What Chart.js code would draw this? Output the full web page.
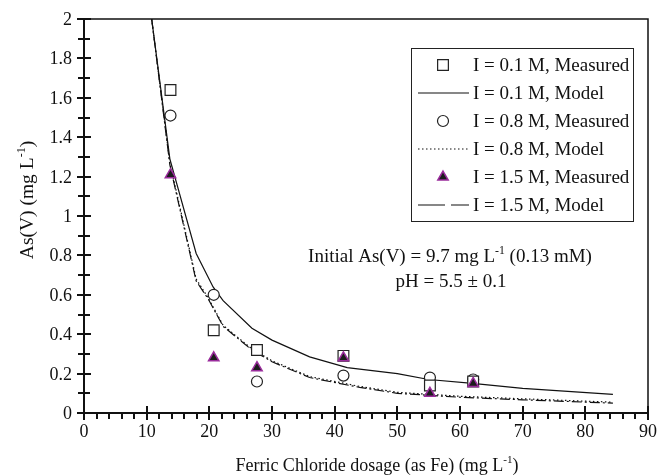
<!DOCTYPE html>
<html lang="en">
<head>
    <meta charset="UTF-8">
    <title>As(V) vs Ferric Chloride dosage</title>
    <script src="https://cdn.jsdelivr.net/npm/chart.js"></script>
    <style>
        html, body { margin: 0; padding: 0; background: #fff; }
        #wrap { width: 659px; height: 475px; position: relative; }
    </style>
</head>
<body>
    <div id="wrap"><canvas id="chart"></canvas></div>

    <script>
        // measured points
        const dose = [13.8, 20.7, 27.6, 41.4, 55.2, 62.1];
        const meas01 = [1.64, 0.42, 0.32, 0.29, 0.14, 0.16];
        const meas08 = [1.51, 0.60, 0.16, 0.19, 0.18, 0.17];
        const meas15 = [1.21, 0.28, 0.23, 0.28, 0.10, 0.15];

        // model curves
        const modelX01 = [10.8, 13.7, 17.9, 20.6, 22.2, 26.8, 30, 36, 42, 50, 55, 62, 70, 84.4];
        const model01 = [2.0, 1.29, 0.81, 0.64, 0.57, 0.43, 0.37, 0.285, 0.23, 0.20, 0.17, 0.15, 0.125, 0.095];
        const modelX08 = [10.8, 13.7, 17.9, 19.8, 22.2, 26.8, 30, 36, 44, 50, 60, 70, 84.4];
        const model08 = [2.0, 1.27, 0.68, 0.585, 0.445, 0.325, 0.265, 0.185, 0.135, 0.105, 0.085, 0.072, 0.055];
        const modelX15 = [10.8, 13.7, 17.9, 19.8, 22.2, 26.8, 30, 36, 44, 50, 60, 70, 84.4];
        const model15 = [2.0, 1.26, 0.67, 0.58, 0.44, 0.32, 0.26, 0.18, 0.13, 0.10, 0.08, 0.067, 0.05];

        const xTicks = [0, 10, 20, 30, 40, 50, 60, 70, 80, 90];
        const yTicks = ['0', '0.2', '0.4', '0.6', '0.8', '1', '1.2', '1.4', '1.6', '1.8', '2'];

        const serif = '"Liberation Serif", "Times New Roman", serif';
        const pts = (xs, ys) => xs.map((x, i) => ({ x: x, y: ys[i] }));

        // draw text with superscript parts
        function richText(ctx, parts, x, y, size, align) {
            let w = 0;
            parts.forEach(p => {
                ctx.font = (p.sup ? size * 0.62 : size) + 'px ' + serif;
                w += ctx.measureText(p.t).width;
            });
            let cx = align === 'center' ? x - w / 2 : x;
            ctx.textAlign = 'left';
            ctx.textBaseline = 'alphabetic';
            parts.forEach(p => {
                ctx.font = (p.sup ? size * 0.62 : size) + 'px ' + serif;
                ctx.fillText(p.t, cx, p.sup ? y - size * 0.42 : y);
                cx += ctx.measureText(p.t).width;
            });
        }

        const framePlugin = {
            id: 'frame',
            afterDraw(chart) {
                const ctx = chart.ctx;
                const a = chart.chartArea;
                const xs = chart.scales.x, ys = chart.scales.y;
                ctx.save();
                ctx.strokeStyle = '#111';
                // top and right
                ctx.lineWidth = 1.5;
                ctx.beginPath();
                ctx.moveTo(a.left, a.top); ctx.lineTo(a.right, a.top); ctx.lineTo(a.right, a.bottom);
                ctx.stroke();
                // left and bottom
                ctx.lineWidth = 2;
                ctx.beginPath();
                ctx.moveTo(a.left, a.top); ctx.lineTo(a.left, a.bottom); ctx.lineTo(a.right, a.bottom);
                ctx.stroke();
                // x ticks
                for (let v = 0; v <= 90; v += 2) {
                    const px = Math.round(xs.getPixelForValue(v));
                    const major = v % 10 === 0;
                    ctx.beginPath();
                    ctx.moveTo(px, major ? a.bottom - 7 : a.bottom);
                    ctx.lineTo(px, a.bottom + (major ? 7 : 6));
                    ctx.stroke();
                }
                // y ticks
                for (let i = 0; i <= 20; i++) {
                    const py = Math.round(ys.getPixelForValue(i / 10));
                    const major = i % 2 === 0;
                    ctx.beginPath();
                    ctx.moveTo(a.left - (major ? 7 : 6), py);
                    ctx.lineTo(a.left + (major ? 7 : 6), py);
                    ctx.stroke();
                }

                ctx.fillStyle = '#111';
                // tick labels
                ctx.font = '18px ' + serif;
                ctx.textBaseline = 'alphabetic';
                ctx.textAlign = 'center';
                xTicks.forEach(v => ctx.fillText(String(v), xs.getPixelForValue(v), a.bottom + 24));
                ctx.textAlign = 'right';
                yTicks.forEach(t => ctx.fillText(t, 72, ys.getPixelForValue(parseFloat(t)) + 6));

                // x title
                richText(ctx, [{ t: 'Ferric Chloride dosage (as Fe) (mg L' }, { t: '-1', sup: true }, { t: ')' }],
                    377, 471, 18, 'center');
                // y title
                ctx.save();
                ctx.translate(33, 200);
                ctx.rotate(-Math.PI / 2);
                richText(ctx, [{ t: 'As(V) (mg L' }, { t: '-1', sup: true }, { t: ')' }], 0, 0, 19.5, 'center');
                ctx.restore();

                // annotation
                richText(ctx, [{ t: 'Initial As(V) = 9.7 mg L' }, { t: '-1', sup: true }, { t: ' (0.13 mM)' }],
                    450, 262, 19, 'center');
                richText(ctx, [{ t: 'pH = 5.5 \u00b1 0.1' }], 451, 287, 19, 'center');

                // legend box
                const lx = 411, ly = 48, lw = 222, lh = 173;
                ctx.fillStyle = '#fff';
                ctx.fillRect(lx, ly, lw, lh);
                ctx.lineWidth = 1;
                ctx.strokeStyle = '#222';
                ctx.strokeRect(lx + 0.5, ly + 0.5, lw, lh);
                chart.data.datasets.forEach((ds, i) => {
                    const ry = 65 + i * 28;
                    ctx.save();
                    if (ds.showLine) {
                        ctx.strokeStyle = ds.borderColor;
                        ctx.lineWidth = ds.borderWidth;
                        ctx.setLineDash(ds.legendDash || []);
                        ctx.beginPath();
                        ctx.moveTo(418, ry);
                        ctx.lineTo(469, ry);
                        ctx.stroke();
                    } else {
                        ctx.fillStyle = ds.pointBackgroundColor;
                        ctx.strokeStyle = ds.pointBorderColor;
                        ctx.lineWidth = ds.pointBorderWidth;
                        Chart.helpers.drawPoint(ctx, {
                            pointStyle: ds.pointStyle, radius: ds.pointRadius,
                            borderWidth: ds.pointBorderWidth, rotation: 0
                        }, 443, ry);
                    }
                    ctx.restore();
                    ctx.fillStyle = '#111';
                    ctx.font = '19px ' + serif;
                    ctx.textAlign = 'left';
                    ctx.textBaseline = 'middle';
                    ctx.fillText(ds.label, 473, ry + 1);
                });
                ctx.restore();
            }
        };

        const lineDs = (label, data, dash, legendDash, order) => ({
            label: label, data: data, showLine: true, borderColor: '#111', borderWidth: 1.2,
            borderDash: dash, legendDash: legendDash, pointRadius: 0, tension: 0, fill: false, order: order
        });

        new Chart(document.getElementById('chart'), {
            type: 'scatter',
            data: {
                datasets: [
                    {
                        label: 'I = 0.1 M, Measured', data: pts(dose, meas01), pointStyle: 'rect',
                        pointRadius: 7.6, pointBackgroundColor: '#fff', pointBorderColor: '#222',
                        pointBorderWidth: 1.2, showLine: false, order: 2
                    },
                    lineDs('I = 0.1 M, Model', pts(modelX01, model01), [], [], 5),
                    {
                        label: 'I = 0.8 M, Measured', data: pts(dose, meas08), pointStyle: 'circle',
                        pointRadius: 5.5, pointBackgroundColor: '#fff', pointBorderColor: '#222',
                        pointBorderWidth: 1.2, showLine: false, order: 3
                    },
                    lineDs('I = 0.8 M, Model', pts(modelX08, model08), [1.5, 2.5], [1.5, 2.5], 6),
                    {
                        label: 'I = 1.5 M, Measured', data: pts(dose, meas15), pointStyle: 'triangle',
                        pointRadius: 6, pointBackgroundColor: '#1c1c1c', pointBorderColor: '#9a2c9c',
                        pointBorderWidth: 1.5, showLine: false, order: 1
                    },
                    lineDs('I = 1.5 M, Model', pts(modelX15, model15), [10, 3, 2, 3], [27, 6, 13, 0], 7)
                ]
            },
            options: {
                responsive: true,
                maintainAspectRatio: false,
                animation: false,
                layout: { padding: { top: 19, right: 11, left: 0, bottom: 0 } },
                plugins: { legend: { display: false }, tooltip: { enabled: false } },
                scales: {
                    x: {
                        type: 'linear', min: 0, max: 90,
                        afterFit: s => { s.height = 62; },
                        grid: { display: false },
                        border: { display: false },
                        ticks: { display: false }
                    },
                    y: {
                        type: 'linear', min: 0, max: 2,
                        afterFit: s => { s.width = 84; },
                        grid: { display: false },
                        border: { display: false },
                        ticks: { display: false }
                    }
                }
            },
            plugins: [framePlugin]
        });
    </script>
</body>
</html>
